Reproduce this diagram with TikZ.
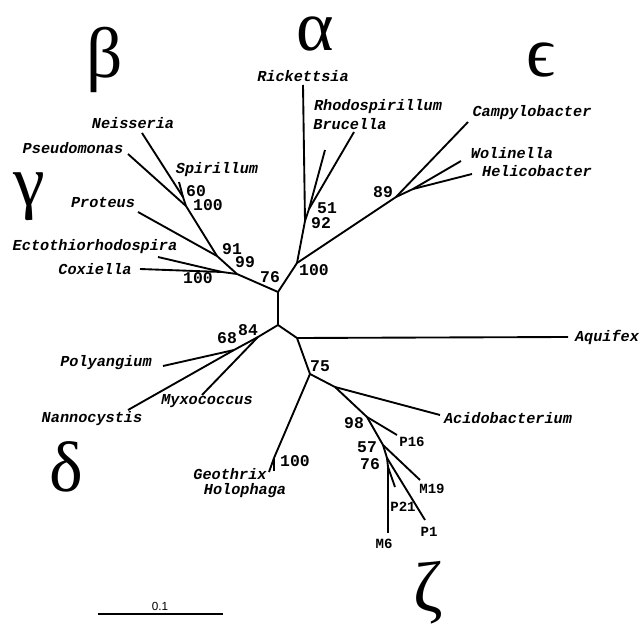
\documentclass[tikz,border=0pt]{standalone}
\usepackage{fontspec}
\setsansfont{Liberation Sans}
\newfontfamily\taxfont{Liberation Mono}
\newfontfamily\grkfont{Liberation Serif}

\begin{document}
\begin{tikzpicture}[x=0.3mm, y=-0.3mm, line width=1.6pt, line join=round,
    taxon/.style={font=\taxfont\bfseries\itshape\fontsize{13}{13}\selectfont, inner sep=0pt},
    boot/.style={font=\taxfont\bfseries\fontsize{14}{14}\selectfont, inner sep=0pt},
    clone/.style={font=\taxfont\bfseries\fontsize{12}{12}\selectfont, inner sep=0pt},
    division/.style={font=\grkfont\fontsize{61}{61}\selectfont, inner sep=0pt}]
    \useasboundingbox (0,0) rectangle (642,626);

    % inner nodes of the tree
    \coordinate (rt) at (278,292);
    \coordinate (rb) at (278,325);
    \coordinate (g99) at (237,274);
    \coordinate (g91) at (217,256);
    \coordinate (b100) at (186,206);
    \coordinate (b60) at (183,197);
    \coordinate (cx100) at (222,272);
    \coordinate (a100) at (297,263);
    \coordinate (a92) at (305,221);
    \coordinate (a51) at (309,209);
    \coordinate (e89) at (396,197);
    \coordinate (e2) at (413,189);
    \coordinate (d84) at (258,337);
    \coordinate (d68) at (234,350);
    \coordinate (rn) at (297,338);
    \coordinate (z75) at (310,374);
    \coordinate (gh) at (274,458);
    \coordinate (ac) at (335,387);
    \coordinate (z98) at (367,417);
    \coordinate (z57) at (383,445);
    \coordinate (z76) at (387,458);
    \coordinate (zm) at (388,467);

    % leaves
    \coordinate (tNei) at (142,133);
    \coordinate (tSpi) at (179,182);
    \coordinate (tPse) at (128,154);
    \coordinate (tPro) at (138,212);
    \coordinate (tEct) at (158,257);
    \coordinate (tCox) at (140,269);
    \coordinate (tRic) at (303,85);
    \coordinate (tRho) at (325,150);
    \coordinate (tBru) at (354,132);
    \coordinate (tCam) at (468,122);
    \coordinate (tWol) at (461,161);
    \coordinate (tHel) at (472,174);
    \coordinate (tAqu) at (568,337);
    \coordinate (tPol) at (163,366);
    \coordinate (tNan) at (128,410);
    \coordinate (tMyx) at (202,395);
    \coordinate (tGeo) at (269,472);
    \coordinate (tHol) at (274,471);
    \coordinate (tAci) at (440,415);
    \coordinate (tP16) at (397,435);
    \coordinate (tM19) at (420,480);
    \coordinate (tP1) at (425,520);
    \coordinate (tP21) at (395,487);
    \coordinate (tM6) at (388,533);

    % branches
    \foreach \a/\b in {rt/rb, rt/g99, g99/g91, g91/b100, b100/b60,
        b60/tNei, b60/tSpi, b100/tPse, g91/tPro, g99/cx100, cx100/tEct, cx100/tCox,
        rt/a100, a100/a92, a92/tRic, a92/a51, a51/tRho, a51/tBru,
        a100/e89, e89/tCam, e89/e2, e2/tWol, e2/tHel,
        rb/d84, d84/d68, d68/tNan, d68/tPol, d84/tMyx,
        rb/rn, rn/tAqu, rn/z75, z75/gh, gh/tGeo, gh/tHol,
        z75/ac, ac/tAci, ac/z98, z98/tP16, z98/z57, z57/tM19, z57/z76,
        z76/tP1, z76/zm, zm/tM6, zm/tP21}
        \draw (\a) -- (\b);

    % taxa
    \node[taxon] (nei) at (133,123) {Neisseria};
    \node[taxon] (pse) at (73,148) {Pseudomonas};
    \node[taxon] (spi) at (217,170) {Spirillum};
    \node[taxon] (pro) at (103,203) {Proteus};
    \node[taxon] (ect) at (95,247) {Ectothiorhodospira};
    \node[taxon] (cox) at (95,269) {Coxiella};
    \node[taxon] (ric) at (303,76) {Rickettsia};
    \node[taxon] (rho) at (378,107) {Rhodospirillum};
    \node[taxon] (bru) at (350,124) {Brucella};
    \node[taxon] (cam) at (532,113) {Campylobacter};
    \node[taxon] (wol) at (512,153) {Wolinella};
    \node[taxon] (hel) at (537,171) {Helicobacter};
    \node[taxon] (aqu) at (607,337) {Aquifex};
    \node[taxon] (pol) at (106,363) {Polyangium};
    \node[taxon] (nan) at (92,419) {Nannocystis};
    \node[taxon] (myx) at (207,401) {Myxococcus};
    \node[taxon] (aci) at (508,418) {Acidobacterium};
    \node[taxon] (geo) at (230,474) {Geothrix};
    \node[taxon] (hol) at (245,491) {Holophaga};
    \node[clone] (p16) at (412,442) {P16};
    \node[clone] (m19) at (432,489) {M19};
    \node[clone] (p21) at (403,507) {P21};
    \node[clone] (p1) at (429,532) {P1};
    \node[clone] (m6) at (384,544) {M6};

    % bootstrap values
    \node[boot] (bs60) at (196,191) {60};
    \node[boot] (bs100a) at (208,205) {100};
    \node[boot] (bs91) at (232,249) {91};
    \node[boot] (bs99) at (245,262) {99};
    \node[boot] (bs100b) at (198,278) {100};
    \node[boot] (bs76a) at (270,277) {76};
    \node[boot] (bs51) at (327,208) {51};
    \node[boot] (bs92) at (321,223) {92};
    \node[boot] (bs100c) at (314,270) {100};
    \node[boot] (bs89) at (383,192) {89};
    \node[boot] (bs84) at (248,330) {84};
    \node[boot] (bs68) at (227,338) {68};
    \node[boot] (bs75) at (320,366) {75};
    \node[boot] (bs100d) at (295,461) {100};
    \node[boot] (bs98) at (354,423) {98};
    \node[boot] (bs57) at (367,447) {57};
    \node[boot] (bs76b) at (370,464) {76};

    % subdivisions
    \node[division] (beta) at (105,60) {β};
    \node[division] (alpha) at (315,34) {α};
    \node[division] (eps) at (541,60) {ϵ};
    \node[division] (gam) at (29,197) {γ};
    \node[division] (del) at (66,467) {δ};
    \node[division] (zet) at (428,593) {ζ};

    % scale bar
    \coordinate (sb1) at (98,614);
    \coordinate (sb2) at (223,614);
    \draw[line width=1pt] (sb1) -- (sb2);
    \node[font=\sffamily\fontsize{10}{10}\selectfont, inner sep=0pt] (sbl) at (160,606) {0.1};
\end{tikzpicture}
\end{document}
